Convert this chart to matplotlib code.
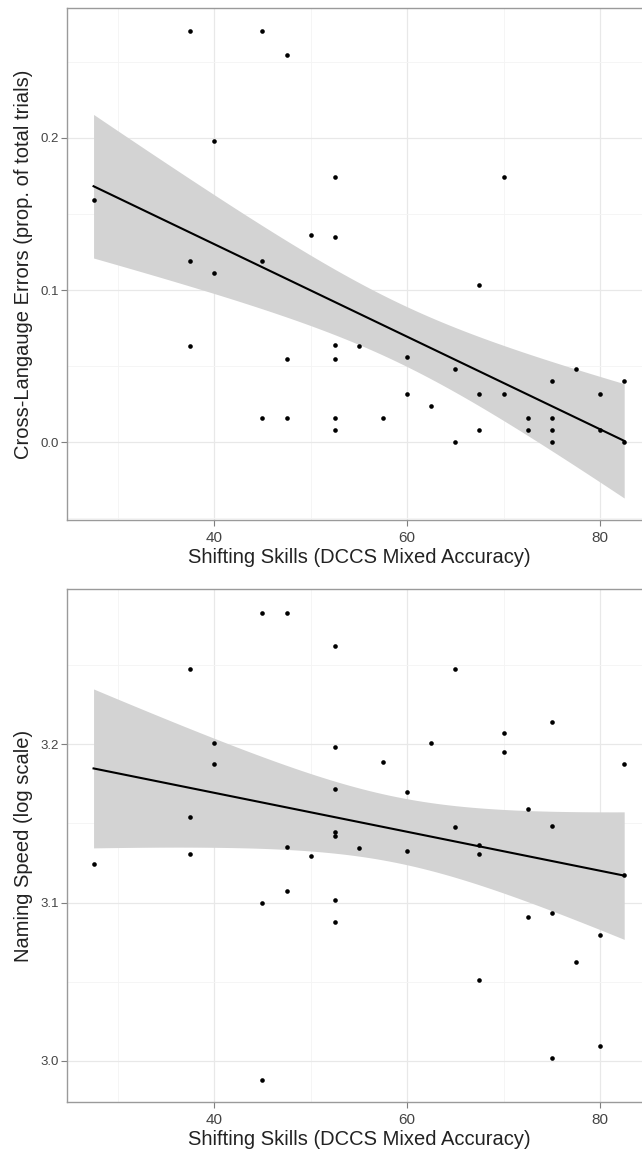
import numpy as np
import matplotlib
matplotlib.use("Agg")
import matplotlib.pyplot as plt
from matplotlib.ticker import MultipleLocator

plt.rcParams['font.family'] = ['Liberation Sans', 'DejaVu Sans']

# shifting skills (DCCS mixed accuracy) vs cross-language errors
shift_err = [27.5, 37.5, 37.5, 37.5, 40, 40, 45, 45, 45, 47.5, 47.5, 47.5, 50,
             52.5, 52.5, 52.5, 52.5, 52.5, 52.5, 55, 57.5, 60, 60, 62.5, 65, 65,
             67.5, 67.5, 67.5, 70, 70, 72.5, 72.5, 75, 75, 75, 75, 77.5, 80, 80,
             82.5, 82.5]
errors = [0.159, 0.270, 0.119, 0.063, 0.198, 0.111, 0.270, 0.119, 0.016, 0.254,
          0.055, 0.016, 0.136, 0.174, 0.135, 0.064, 0.055, 0.016, 0.008, 0.063,
          0.016, 0.056, 0.032, 0.024, 0.048, 0.0, 0.103, 0.032, 0.008, 0.174,
          0.032, 0.016, 0.008, 0.040, 0.016, 0.008, 0.0, 0.048, 0.032, 0.008,
          0.040, 0.0]

# shifting skills vs naming speed (log)
shift_speed = [27.5, 37.5, 37.5, 37.5, 40, 40, 45, 45, 45, 47.5, 47.5, 47.5, 50,
               52.5, 52.5, 52.5, 52.5, 52.5, 52.5, 52.5, 55, 57.5, 60, 60, 62.5,
               65, 65, 67.5, 67.5, 67.5, 70, 70, 72.5, 72.5, 75, 75, 75, 75, 77.5,
               80, 80, 82.5, 82.5]
speed = [3.1245, 3.2476, 3.1539, 3.1307, 3.2008, 3.1877, 3.2828, 3.0999, 2.988,
         3.2828, 3.1353, 3.1073, 3.1294, 3.2623, 3.1985, 3.1717, 3.1448, 3.1418,
         3.1016, 3.0879, 3.1346, 3.189, 3.1697, 3.1326, 3.2008, 3.2476, 3.1477,
         3.1362, 3.1309, 3.0508, 3.2073, 3.1951, 3.1589, 3.0906, 3.2141, 3.1486,
         3.0934, 3.0015, 3.0624, 3.0795, 3.0095, 3.1874, 3.1172]

x_label = "Shifting Skills (DCCS Mixed Accuracy)"
y_labels = ["Cross-Langauge Errors (prop. of total trials)", "Naming Speed (log scale)"]
y_ticks = [[0.0, 0.1, 0.2], [3.0, 3.1, 3.2]]
y_tick_labels = [["0.0", "0.1", "0.2"], ["3.0", "3.1", "3.2"]]
x_ticks = [40, 60, 80]


def lm_smooth(x, y, t=2.02):
    # plain OLS with 95% band, like geom_smooth(method="lm")
    x = np.asarray(x, float)
    y = np.asarray(y, float)
    n = len(x)
    b, a = np.polyfit(x, y, 1)
    resid = y - (a + b * x)
    s = np.sqrt(np.sum(resid ** 2) / (n - 2))
    xs = np.linspace(x.min(), x.max(), 80)
    fit = a + b * xs
    se = s * np.sqrt(1.0 / n + (xs - x.mean()) ** 2 / np.sum((x - x.mean()) ** 2))
    return xs, fit, fit - t * se, fit + t * se


fig = plt.figure(figsize=(6.42, 11.55), dpi=100)
ax1 = fig.add_axes([0.1044, 0.5498, 0.9092, 0.4433])
ax2 = fig.add_axes([0.1044, 0.0456, 0.9092, 0.4442])

panels = [(ax1, shift_err, errors, (-0.051, 0.2852), 0.05),
          (ax2, shift_speed, speed, (2.9737, 3.298), 0.05)]

for i, (ax, xv, yv, ylim, yminor) in enumerate(panels):
    xs, fit, lo, hi = lm_smooth(xv, yv)
    ax.fill_between(xs, lo, hi, color="#d3d3d3", lw=0, zorder=2)
    ax.plot(xs, fit, color="black", lw=1.5, zorder=3)
    ax.scatter(xv, yv, s=11, color="black", zorder=4, linewidths=0)

    ax.set_xlim(24.75, 85.25)
    ax.set_ylim(*ylim)
    ax.set_xticks(x_ticks)
    ax.set_yticks(y_ticks[i])
    ax.set_yticklabels(y_tick_labels[i])
    ax.xaxis.set_minor_locator(MultipleLocator(10))
    ax.yaxis.set_minor_locator(MultipleLocator(yminor))
    ax.grid(which="major", color="#e8e8e8", lw=0.9, zorder=0)
    ax.grid(which="minor", color="#f4f4f4", lw=0.6, zorder=0)
    ax.set_axisbelow(True)
    ax.tick_params(which="minor", length=0)
    ax.tick_params(which="major", length=4, color="#7f7f7f", width=0.8,
                   labelcolor="#444444")
    ax.tick_params(axis="x", labelsize=11, pad=4)
    ax.tick_params(axis="y", labelsize=9.5, pad=2)
    for sp in ax.spines.values():
        sp.set_color("#9a9a9a")
        sp.set_linewidth(1.0)
    ax.set_xlabel(x_label, fontsize=14.5, color="#222222", labelpad=2)
    ax.set_ylabel(y_labels[i], fontsize=14.5, color="#222222")
    ax.yaxis.set_label_coords(-0.058, 0.5)

fig.savefig("out.png", dpi=100)
